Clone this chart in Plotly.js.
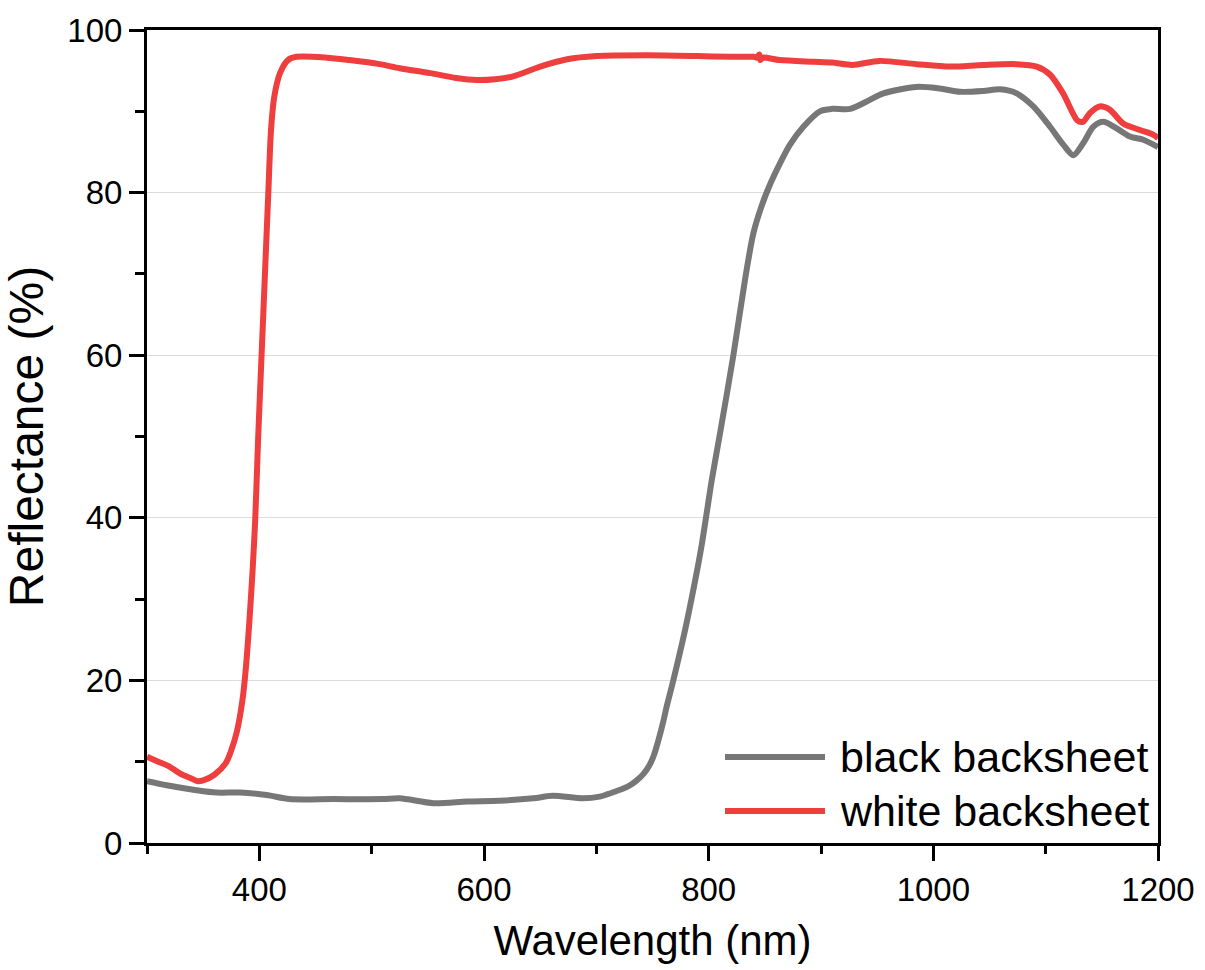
<!DOCTYPE html>
<html>
<head>
<meta charset="utf-8">
<script src="https://cdn.plot.ly/plotly-3.0.1.min.js"></script>
<style>html,body{margin:0;padding:0;background:#fff;}#chart{width:1205px;height:970px;}</style>
</head>
<body>
<div id="chart"></div>
<script>
// ---- data ----
var seriesNames = ["black backsheet", "white backsheet"];

var wlBlack = [300,317.5,344,362,383,406.5,427,466,510,525,555,585,614,644,661,688,703,710,718,724,730,736,742,747,751,755,759,763,768.5,779,788,793,797.6,802.7,810,822,832.6,839.8,847,854.6,863.5,872.4,884.3,899,910,926,940.7,955.5,985,1005.7,1023.7,1044.5,1059.4,1074.2,1089,1103.9,1115.7,1124.6,1133.5,1142.4,1151.3,1163.2,1175,1187,1200];
var rBlack  = [7.6,7.1,6.5,6.2,6.2,5.9,5.4,5.4,5.4,5.5,4.9,5.1,5.2,5.5,5.8,5.5,5.7,6.0,6.4,6.7,7.1,7.7,8.5,9.5,10.7,12.5,14.6,17.0,20.0,26.2,32.3,36.0,40.0,44.6,50.3,60.0,69.5,75.0,78.3,81.0,83.6,85.9,88.1,90.0,90.3,90.3,91.2,92.2,93.0,92.8,92.4,92.5,92.7,92.2,90.6,88.1,85.9,84.6,86.1,88.1,88.7,87.9,86.9,86.5,85.6];

var wlWhite = [300,310,320,330,340,345,350,360,370,375,380,385,388,391,394,396.4,399,402,405,408,410.4,413.3,418.4,425.5,433,460,480,507,525,552,575,594,610,626,650,674,700,745,790,819,840,843,845,846,848,863,893,910,928,952,985,1015,1044,1074,1092,1104,1115.5,1128,1133,1139.5,1148,1157,1169,1184,1196,1200];
var rWhite  = [10.6,10.0,9.4,8.5,7.9,7.6,7.7,8.4,9.8,11.4,13.7,17.6,21.5,27.0,33.5,40.0,50.0,60.0,70.0,80.0,87.7,91.8,94.7,96.3,96.7,96.6,96.3,95.8,95.3,94.7,94.1,93.85,93.95,94.3,95.5,96.4,96.8,96.9,96.8,96.7,96.7,96.6,97.0,96.3,96.6,96.3,96.1,96.0,95.7,96.2,95.8,95.5,95.7,95.8,95.5,94.5,92.2,88.9,88.7,89.8,90.6,90.2,88.5,87.7,87.1,86.7];

var xTickVals = [400, 600, 800, 1000, 1200];
var yTickVals = [0, 20, 40, 60, 80, 100];

// ---- styling ----
var colors = ["#777777", "#ef3e3e"];
var FONT = "Liberation Sans, Arial, Helvetica, sans-serif";

var traces = [
  {x: wlBlack, y: rBlack, name: seriesNames[0], type: "scatter", mode: "lines",
   line: {color: colors[0], width: 6, shape: "spline", smoothing: 0.8}},
  {x: wlWhite, y: rWhite, name: seriesNames[1], type: "scatter", mode: "lines",
   line: {color: colors[1], width: 6, shape: "spline", smoothing: 0.8}}
];

// custom legend (long sample lines like the reference)
var legX0 = 0.5717, legX1 = 0.6706, legTextX = 0.6835;
var legY = [0.1058, 0.0394];
var shapes = [], annotations = [];
for (var i = 0; i < seriesNames.length; i++) {
  shapes.push({type: "line", xref: "paper", yref: "paper", x0: legX0, x1: legX1, y0: legY[i], y1: legY[i],
               line: {color: colors[i], width: 6}});
  annotations.push({xref: "paper", yref: "paper", x: legTextX, y: legY[i], xanchor: "left", yanchor: "middle",
                    text: seriesNames[i], showarrow: false, font: {family: FONT, size: 43, color: "#000"}});
}

var layout = {
  width: 1205, height: 970,
  margin: {l: 147, r: 47, t: 30, b: 127},
  paper_bgcolor: "#fff", plot_bgcolor: "#fff",
  showlegend: false,
  hovermode: false,
  font: {family: FONT, color: "#000"},
  xaxis: {
    range: [300, 1200], tickvals: xTickVals, ticktext: xTickVals.map(String),
    ticks: "outside", ticklen: 15, tickwidth: 3, tickcolor: "#000",
    minor: {dtick: 100, tick0: 0, ticks: "outside", ticklen: 8, tickwidth: 3, tickcolor: "#000", showgrid: false},
    showline: true, linecolor: "#000", linewidth: 3, mirror: true,
    showgrid: false, zeroline: false,
    tickfont: {family: FONT, size: 33, color: "#000"},
    title: {text: "Wavelength (nm)", font: {family: FONT, size: 42, color: "#000"}, standoff: 20}
  },
  yaxis: {
    range: [0, 100], tickvals: yTickVals, ticktext: yTickVals.map(String),
    ticks: "outside", ticklen: 15, tickwidth: 3, tickcolor: "#000",
    minor: {dtick: 10, tick0: 0, ticks: "outside", ticklen: 9, tickwidth: 3, tickcolor: "#000", showgrid: false},
    showline: true, linecolor: "#000", linewidth: 3, mirror: true,
    showgrid: true, gridcolor: "#dcdcdc", gridwidth: 1.2, zeroline: false,
    tickfont: {family: FONT, size: 33, color: "#000"},
    title: {text: "Reflectance (%)", font: {family: FONT, size: 48, color: "#000"}, standoff: 14}
  },
  shapes: shapes,
  annotations: annotations
};

Plotly.newPlot("chart", traces, layout, {staticPlot: true, displayModeBar: false});
</script>
</body>
</html>
